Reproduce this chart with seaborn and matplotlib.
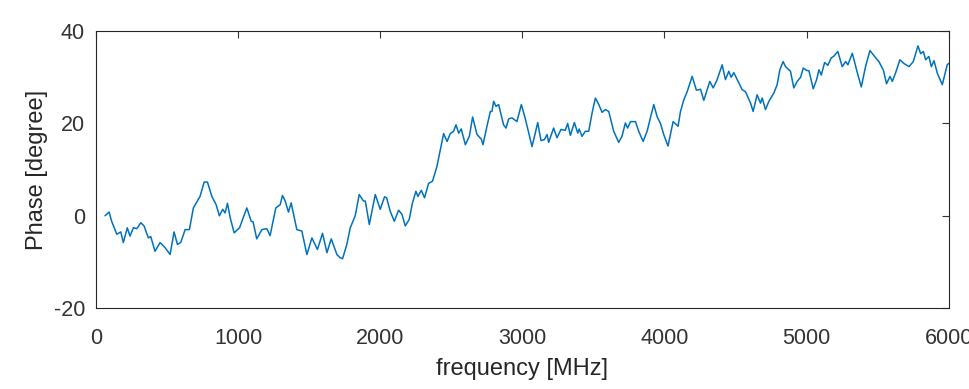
import matplotlib
matplotlib.use("Agg")
import matplotlib.pyplot as plt
import seaborn as sns
import pandas as pd

# frequency [MHz] and phase [degree]
freq = [63, 92, 110, 146, 174, 192, 220, 239, 263, 287, 315, 338, 368, 385, 415,
        451, 486, 521, 549, 573, 596, 627, 657, 685, 732, 761, 784, 815, 845, 868,
        892, 908, 925, 944, 972, 1010, 1061, 1092, 1105, 1131, 1167, 1202, 1225,
        1265, 1296, 1312, 1331, 1354, 1373, 1413, 1448, 1484, 1519, 1558, 1594,
        1625, 1655, 1695, 1718, 1735, 1765, 1789, 1824, 1852, 1882, 1895, 1923,
        1965, 2000, 2030, 2045, 2070, 2099, 2129, 2153, 2176, 2204, 2227, 2251,
        2265, 2289, 2312, 2340, 2368, 2399, 2423, 2446, 2470, 2493, 2516, 2533,
        2552, 2570, 2599, 2627, 2650, 2681, 2711, 2723, 2751, 2775, 2786, 2798,
        2815, 2833, 2868, 2885, 2904, 2927, 2962, 2993, 3021, 3045, 3068, 3091,
        3108, 3131, 3155, 3174, 3185, 3220, 3244, 3272, 3302, 3319, 3338, 3366,
        3390, 3400, 3420, 3443, 3467, 3491, 3514, 3538, 3561, 3584, 3608, 3643,
        3678, 3701, 3725, 3741, 3761, 3796, 3819, 3850, 3878, 3901, 3925, 3948,
        3972, 3995, 4025, 4061, 4096, 4113, 4136, 4160, 4195, 4225, 4254, 4277,
        4319, 4343, 4371, 4406, 4429, 4453, 4469, 4488, 4512, 4547, 4570, 4606,
        4624, 4652, 4676, 4688, 4711, 4735, 4770, 4793, 4812, 4835, 4852, 4887,
        4910, 4934, 4958, 4977, 5000, 5017, 5047, 5071, 5087, 5104, 5127, 5150,
        5174, 5193, 5220, 5251, 5275, 5291, 5322, 5352, 5385, 5415, 5446, 5479,
        5509, 5540, 5563, 5587, 5603, 5627, 5657, 5685, 5721, 5751, 5784, 5803,
        5822, 5838, 5861, 5878, 5897, 5920, 5955, 5990, 6000]
phase = [0.0, 0.8, -1.2, -4.0, -3.5, -5.8, -2.6, -4.4, -2.6, -2.8, -1.5, -2.2, -4.8,
         -4.5, -7.7, -5.8, -6.9, -8.4, -3.5, -6.2, -5.8, -3.0, -3.0, 1.7, 4.2, 7.3,
         7.3, 4.2, 2.4, 0.0, 1.4, 0.6, 2.7, -0.4, -3.7, -2.6, 1.7, -1.2, -1.3, -5.0,
         -3.0, -2.8, -4.3, 1.7, 2.4, 4.4, 3.2, 0.8, 2.8, -3.0, -3.3, -8.4, -4.8,
         -7.3, -3.8, -8.0, -5.0, -8.4, -9.1, -9.3, -6.2, -2.6, 0.0, 4.6, 3.2, 3.2,
         -1.9, 4.6, 1.4, 4.1, 3.9, 1.0, -1.2, 1.2, 0.3, -2.2, -0.8, 2.8, 5.3, 4.2,
         5.5, 3.9, 7.0, 7.5, 10.7, 14.3, 17.8, 16.1, 17.8, 18.3, 19.7, 17.9, 18.8,
         15.4, 17.2, 21.4, 17.6, 16.6, 15.4, 19.4, 22.6, 22.6, 24.8, 23.7, 24.1,
         19.7, 19.0, 21.0, 21.2, 20.4, 24.1, 21.0, 17.9, 15.0, 17.9, 20.2, 16.3,
         16.5, 17.6, 15.9, 19.0, 16.9, 18.7, 18.5, 20.0, 17.4, 20.2, 17.9, 18.8,
         17.2, 18.3, 18.3, 22.3, 25.5, 24.1, 22.4, 23.0, 22.6, 18.3, 15.9, 17.2,
         20.1, 19.0, 20.4, 20.4, 18.3, 16.1, 18.3, 21.2, 24.1, 21.5, 20.0, 17.6,
         15.1, 20.4, 19.4, 22.6, 25.1, 26.9, 30.2, 27.2, 27.4, 25.0, 29.1, 27.7,
         29.5, 32.7, 29.5, 31.3, 30.0, 31.0, 29.5, 27.3, 26.9, 24.4, 22.6, 26.2,
         24.4, 25.5, 23.0, 24.8, 26.6, 28.4, 31.6, 33.4, 32.3, 31.3, 27.7, 29.1,
         30.0, 32.0, 31.5, 31.4, 27.5, 29.5, 31.6, 30.5, 33.2, 32.6, 34.2, 34.6,
         35.6, 32.3, 33.4, 32.7, 35.2, 31.6, 27.9, 32.3, 35.8, 34.5, 33.4, 31.6,
         28.6, 30.2, 29.1, 31.0, 33.8, 33.0, 32.3, 33.4, 36.8, 35.1, 35.6, 33.8,
         34.5, 32.3, 33.6, 30.9, 28.4, 32.7, 33.0]

xticks = [0, 1000, 2000, 3000, 4000, 5000, 6000]
yticks = [-20, 0, 20, 40]

df = pd.DataFrame({"freq": freq, "phase": phase})

sns.set_style("white")
plt.rcParams["font.family"] = ["Liberation Sans", "DejaVu Sans"]
plt.rcParams["axes.unicode_minus"] = False

fig = plt.figure(figsize=(9.7, 3.89), dpi=100)
ax = fig.add_axes([0.099, 0.208, 0.879, 0.712])

sns.lineplot(x="freq", y="phase", data=df, ax=ax, color="#0072BD",
             linewidth=1.1, estimator=None, sort=False)

ax.set_xlim(0, 6000)
ax.set_ylim(-20, 40)
ax.set_xticks(xticks)
ax.set_yticks(yticks)
ax.set_xlabel("frequency [MHz]", fontsize=17, color="#262626", labelpad=7)
ax.set_ylabel("Phase [degree]", fontsize=17, color="#262626", labelpad=4)
ax.tick_params(direction="in", length=5, width=0.8, colors="#333333",
               labelsize=15.5, top=True, right=True)
ax.tick_params(axis="x", pad=14)
ax.tick_params(axis="y", pad=8)
for s in ax.spines.values():
    s.set_color("#262626")
    s.set_linewidth(0.8)

fig.savefig("out.png", dpi=100)
